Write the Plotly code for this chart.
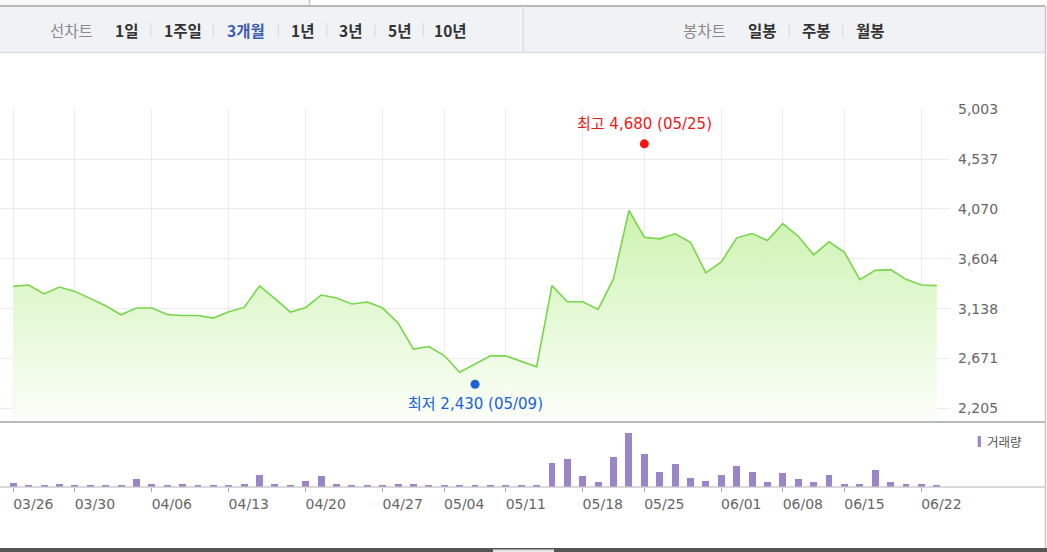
import plotly.graph_objects as go

W, H = 1047, 552

# ---------------- data ----------------
close_prices = [3346, 3359, 3275, 3340, 3299, 3231, 3165, 3080, 3143, 3143,
                3083, 3074, 3074, 3049, 3109, 3149, 3350, 3231, 3106, 3149,
                3265, 3237, 3181, 3200, 3143, 3003, 2759, 2783, 2699, 2543,
                2621, 2696, 2696, 2642, 2593, 3353, 3202, 3202, 3130, 3418,
                4056, 3806, 3791, 3838, 3759, 3472, 3575, 3800, 3840, 3775,
                3934, 3815, 3641, 3763, 3665, 3409, 3496, 3503, 3412, 3359, 3353]

volumes_k = [86, 34, 33, 66, 35, 32, 34, 33, 154, 66,
             34, 65, 33, 34, 35, 66, 246, 64, 34, 126,
             214, 66, 34, 33, 35, 66, 64, 34, 33, 34,
             35, 33, 34, 34, 35, 480, 566, 214, 94, 606,
             1080, 660, 300, 454, 180, 120, 246, 426, 300, 94,
             274, 154, 94, 246, 66, 66, 334, 94, 66, 66, 34]

tick_index = [0, 4, 9, 14, 19, 24, 28, 32, 37, 41, 46, 50, 54, 59]
tick_labels = ["03/26", "03/30", "04/06", "04/13", "04/20", "04/27", "05/04",
               "05/11", "05/18", "05/25", "06/01", "06/08", "06/15", "06/22"]

price_ticks = [2205, 2671.33, 3137.67, 3604, 4070.33, 4536.67, 5003]
price_tick_text = ["2,205", "2,671", "3,138", "3,604", "4,070", "4,537", "5,003"]

high_idx, high_val, high_label = 41, 4680, "최고 4,680 (05/25)"
low_idx, low_val, low_label = 30, 2430, "최저 2,430 (05/09)"

left_menu = ["1일", "1주일", "3개월", "1년", "3년", "5년", "10년"]
left_active = "3개월"
right_menu = ["일봉", "주봉", "월봉"]

# ---------------- helpers ----------------
def px(x):
    return x / W


def py(y):
    return 1 - y / H


x_idx = list(range(len(close_prices)))
X_RANGE = [-0.864, 60.86]
PLOT_RIGHT = 950

fig = go.Figure()

fig.add_trace(go.Scatter(
    x=x_idx, y=close_prices, mode="lines",
    line=dict(color="#78d64a", width=1.6),
    fill="tozeroy",
    fillgradient=dict(type="vertical",
                      colorscale=[[0, "#fbfef9"], [0.5, "#e5f9d6"], [1, "#cdf2b0"]],
                      start=2080, stop=max(close_prices)),
    hoverinfo="skip", showlegend=False, xaxis="x", yaxis="y"))

fig.add_trace(go.Scatter(
    x=[high_idx], y=[high_val], mode="markers",
    marker=dict(color="#ff1010", size=9), showlegend=False,
    hoverinfo="skip", xaxis="x", yaxis="y"))
fig.add_trace(go.Scatter(
    x=[low_idx], y=[low_val], mode="markers",
    marker=dict(color="#1a62d6", size=9), showlegend=False,
    hoverinfo="skip", xaxis="x", yaxis="y"))

fig.add_trace(go.Bar(
    x=x_idx, y=volumes_k, marker=dict(color="#9b85c9", line=dict(width=0)),
    width=0.45, showlegend=False, hoverinfo="skip", xaxis="x2", yaxis="y2"))

tick_font = dict(family="DejaVu Sans", size=14, color="#666666")

fig.update_layout(
    width=W, height=H,
    margin=dict(l=0, r=0, t=0, b=0),
    paper_bgcolor="white", plot_bgcolor="rgba(0,0,0,0)",
    bargap=0,
    xaxis=dict(domain=[0, px(PLOT_RIGHT)], range=X_RANGE, tickvals=tick_index,
               showticklabels=False, showgrid=True, gridcolor="#ececec",
               gridwidth=1, zeroline=False, ticks="", anchor="y",
               automargin=False),
    yaxis=dict(domain=[py(421.7), py(109.3)], range=[2079.6, 5003],
               tickvals=price_ticks, ticktext=price_tick_text, side="right",
               showgrid=True, gridcolor="#ececec", gridwidth=1, zeroline=False,
               ticks="", tickfont=tick_font, ticklabelstandoff=7, anchor="x",
               automargin=False),
    xaxis2=dict(domain=[0, px(PLOT_RIGHT)], range=X_RANGE, tickvals=tick_index,
                ticktext=tick_labels, ticks="outside", ticklen=4,
                tickcolor="#aaaaaa", showgrid=False, zeroline=False,
                tickfont=tick_font, ticklabelshift=20,
                ticklabeloverflow="allow", anchor="y2", automargin=False),
    yaxis2=dict(domain=[py(486.7), py(421.7)], range=[0, 1300],
                showticklabels=False, showgrid=False, zeroline=False,
                ticks="", anchor="x2", automargin=False),
)

shapes = []


def rect(x0, y0, x1, y1, color, layer="above"):
    shapes.append(dict(type="rect", xref="paper", yref="paper",
                       x0=px(x0), x1=px(x1), y0=py(y1), y1=py(y0),
                       fillcolor=color, line=dict(width=0), layer=layer))


def line(x0, y0, x1, y1, color, width=1):
    shapes.append(dict(type="line", xref="paper", yref="paper",
                       x0=px(x0), x1=px(x1), y0=py(y0), y1=py(y1),
                       line=dict(color=color, width=width), layer="above"))


# top strip & header bar
rect(0, 0, 309, 5.5, "#f8f8f8")
line(309.5, 0, 309.5, 6, "#c4c4c4", 1.5)
rect(0, 6, 1045, 52, "#f0f2f6")
line(0, 6, 1045, 6, "#b8b8b8", 2)
line(0, 52.5, 1045, 52.5, "#dadde2", 1.5)
line(523.3, 6, 523.3, 52, "#dcdde2", 1.5)
for sx in [150.7, 213.3, 278.3, 326.7, 375, 423.3, 789.3, 842.7]:
    line(sx, 23, sx, 37, "#d6d8dc", 1)

# panel lines
line(0, 422, 1045, 422, "#a3a3a3", 1.5)
line(0, 487, 1045, 487, "#b3b3b3", 1)
line(1045.5, 6, 1045.5, 548, "#c8c8c8", 1.5)
rect(0, 548, W, H, "#555555")
rect(493, 549.5, 554, H, "#e6e6e6")

# volume legend marker
rect(977.7, 436, 980.9, 447, "#9b85c9")

fig.update_layout(shapes=shapes)

annotations = []
kfont = "Noto Sans CJK KR"


def text(x, y, s, size, color, anchor="center", family=kfont):
    annotations.append(dict(xref="paper", yref="paper", x=px(x), y=py(y),
                            text=s, showarrow=False, xanchor=anchor,
                            yanchor="middle",
                            font=dict(family=family, size=size, color=color)))


text(71.5, 30, "선차트", 15.5, "#8a8a8a")
left_x = [126.7, 182.5, 246.3, 302.7, 350.3, 399, 450.5]
for lbl, cx in zip(left_menu, left_x):
    col = "#3d5db3" if lbl == left_active else "#333333"
    text(cx, 30, "<b>" + lbl + "</b>", 15.5, col)

text(704.2, 30, "봉차트", 15.5, "#8a8a8a")
for lbl, cx in zip(right_menu, [762.5, 816, 870]):
    text(cx, 30, "<b>" + lbl + "</b>", 15.5, "#333333")

text(985, 441.5, "거래량", 12.5, "#555555", anchor="left")

ann_font = "DejaVu Sans, Noto Sans CJK KR"
annotations.append(dict(xref="x", yref="y", x=high_idx, y=high_val,
                        text=high_label, showarrow=False, yshift=20,
                        xanchor="center", yanchor="middle",
                        font=dict(family=ann_font, size=15, color="#f01818")))
annotations.append(dict(xref="x", yref="y", x=low_idx, y=low_val,
                        text=low_label, showarrow=False, yshift=-20,
                        xanchor="center", yanchor="middle",
                        font=dict(family=ann_font, size=15, color="#1a62d6")))

fig.update_layout(annotations=annotations)

post_js = (
    "document.documentElement.style.margin='0';"
    "document.body.style.margin='0';document.body.style.padding='0';"
    "document.documentElement.style.overflow='hidden';"
    "document.body.style.overflow='hidden';"
    "var d=document.getElementById('{plot_id}');"
    "d.style.position='absolute';d.style.left='0px';d.style.top='0px';"
)
fig.write_html("out.html", post_script=post_js, config={"displayModeBar": False})
